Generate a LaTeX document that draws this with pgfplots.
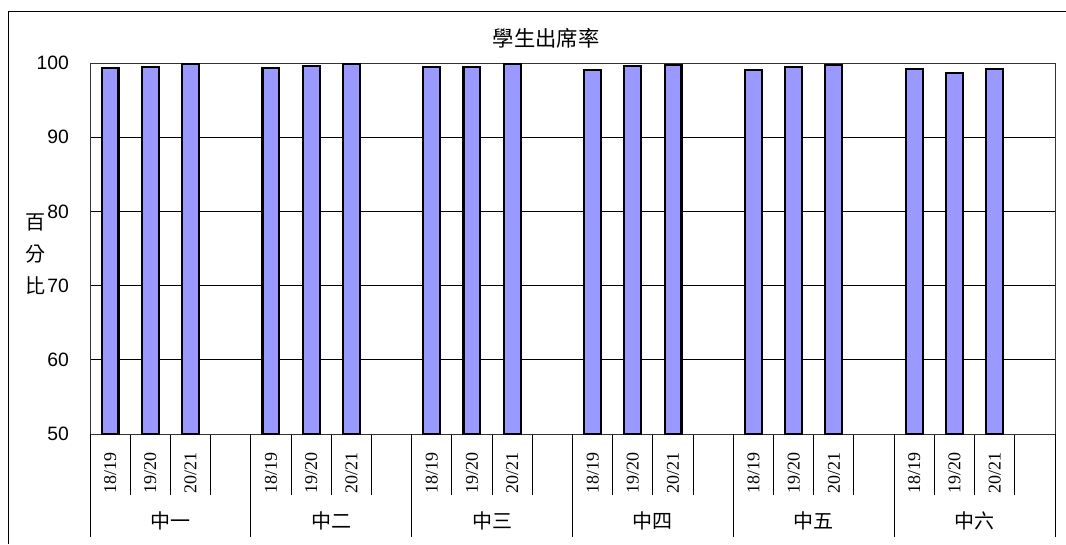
\documentclass[border=0pt]{standalone}
\usepackage{fontspec}
\setmainfont{Liberation Sans}
\newfontfamily\cjk{Noto Sans CJK TC}
\newfontfamily\tms{Liberation Serif}
\usepackage{pgfplots}
\pgfplotsset{compat=1.18}
\definecolor{barblue}{HTML}{9999FF}

\begin{document}
\begin{tikzpicture}
\useasboundingbox (0,0) rectangle (799.5pt,408pt);
% outer frame (left and top edges are visible)
\draw[line width=0.75pt] (6pt,0) -- (6pt,399pt) -- (799.5pt,399pt);

\begin{axis}[
  at={(67.5pt,82.5pt)}, anchor=south west,
  width=723.75pt, height=278.25pt, scale only axis,
  xmin=-0.5, xmax=23.5, ymin=50, ymax=100,
  ybar, bar width=0.42, bar shift=0pt,
  axis line style={black!80, line width=0.75pt},
  ytick={50,60,70,80,90,100},
  ymajorgrids, grid style={black, line width=0.6pt},
  ytick style={draw=none},
  yticklabel style={font=\fontsize{14.5}{15}\selectfont},
  yticklabel shift=8pt,
  /pgf/number format/assume math mode=true,
  xtick={0,1,2,4,5,6,8,9,10,12,13,14,16,17,18,20,21,22},
  xticklabels={18/19,19/20,20/21,18/19,19/20,20/21,18/19,19/20,20/21,
               18/19,19/20,20/21,18/19,19/20,20/21,18/19,19/20,20/21},
  xticklabel style={rotate=90, anchor=east, font=\tms\fontsize{13.5}{14}\selectfont},
  xticklabel shift=6pt,
  major x tick style={draw=none},
  minor xtick={0.5,1.5,2.5,4.5,5.5,6.5,8.5,9.5,10.5,12.5,13.5,14.5,16.5,17.5,18.5,20.5,21.5,22.5},
  minor tick length=45.75pt,
  extra x ticks={-0.5,3.5,7.5,11.5,15.5,19.5,23.5},
  extra x tick labels={},
  extra x tick style={major tick length=77.25pt, grid=none,
                      major x tick style={draw=black, line width=0.75pt}},
  tick align=outside,
  xtick pos=bottom, ytick pos=left,
  minor x tick style={black, line width=0.75pt},
  clip mode=individual,
]
\addplot[fill=barblue, draw=black, line width=1.6pt] coordinates {
  (0,99.3) (1,99.5) (2,99.85)
  (4,99.3) (5,99.6) (6,99.85)
  (8,99.5) (9,99.5) (10,99.85)
  (12,99.05) (13,99.6) (14,99.7)
  (16,99.05) (17,99.5) (18,99.7)
  (20,99.15) (21,98.6) (22,99.15)
};
\node[font=\cjk\fontsize{15}{15}\selectfont, yshift=-65.25pt] at (axis cs:1.5,50) {中一};
\node[font=\cjk\fontsize{15}{15}\selectfont, yshift=-65.25pt] at (axis cs:5.5,50) {中二};
\node[font=\cjk\fontsize{15}{15}\selectfont, yshift=-65.25pt] at (axis cs:9.5,50) {中三};
\node[font=\cjk\fontsize{15}{15}\selectfont, yshift=-65.25pt] at (axis cs:13.5,50) {中四};
\node[font=\cjk\fontsize{15}{15}\selectfont, yshift=-65.25pt] at (axis cs:17.5,50) {中五};
\node[font=\cjk\fontsize{15}{15}\selectfont, yshift=-65.25pt] at (axis cs:21.5,50) {中六};
\end{axis}

\node[font=\cjk\fontsize{16}{16}\selectfont] at (409.5pt,379.5pt) {學生出席率};
\node[font=\cjk\fontsize{15}{15}\selectfont] at (27pt,241.5pt) {百};
\node[font=\cjk\fontsize{15}{15}\selectfont] at (27pt,217.5pt) {分};
\node[font=\cjk\fontsize{15}{15}\selectfont] at (27pt,193.5pt) {比};
\end{tikzpicture}
\end{document}
